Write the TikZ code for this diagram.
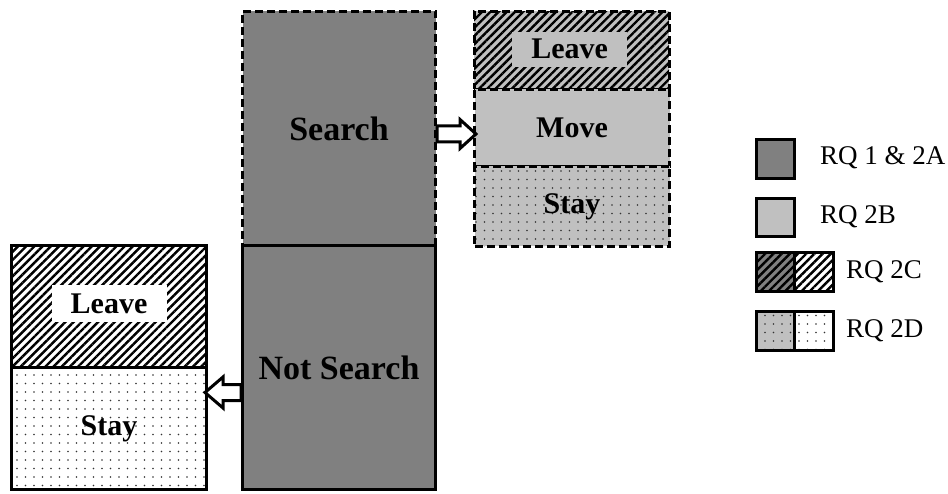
\documentclass[tikz,border=0pt]{standalone}
\usepackage{fontspec}
\setmainfont{Liberation Serif}
\usetikzlibrary{patterns.meta,calc}
\definecolor{dgray}{RGB}{128,128,128}
\definecolor{lgray}{RGB}{192,192,192}
\tikzset{
  box/.style={draw=black, line width=3pt, rectangle, inner sep=0pt, anchor=north west},
  dbox/.style={box, dash pattern=on 8pt off 4pt},
  hatch/.style={pattern={Lines[angle=45,distance=5.8pt,line width=2.4pt]}, pattern color=black},
  dotted pat/.style={pattern={Dots[radius=0.9pt,distance=8.5pt]}, pattern color=black!80},
  lbl/.style={font=\bfseries\fontsize{30}{30}\selectfont, text=black},
  biglbl/.style={font=\bfseries\fontsize{34}{34}\selectfont, text=black},
  leg/.style={font=\fontsize{27}{27}\selectfont, anchor=west, inner sep=0pt},
  lbg/.style={lbl, minimum width=115pt, minimum height=35pt, inner sep=0pt},
  blockarrow/.style={draw=black, fill=white, line width=3pt, line join=miter},
}
\begin{document}
\begin{tikzpicture}[x=1pt,y=-1pt]
\useasboundingbox (0,0) rectangle (948,494);
% central column
\node[dbox, fill=dgray, minimum width=193pt, minimum height=234pt, biglbl] (search) at (241,10) {Search};
\node[box, fill=dgray, minimum width=193pt, minimum height=244pt, biglbl] (notsearch) at (241,244) {Not Search};
% right column
\node[dbox, preaction={fill=lgray}, hatch, minimum width=195pt, minimum height=78pt] (rleave) at (473,10) {};
\node[lbg, fill=lgray] (rleavelbl) at ($(rleave.center)+(-2,-1)$) {Leave};
\node[dbox, fill=lgray, minimum width=195pt, minimum height=77pt, lbl] (rmove) at (473,88) {Move};
\node[dbox, preaction={fill=lgray}, dotted pat, minimum width=195pt, minimum height=80pt, lbl] (rstay) at (473,165) {Stay};
% left column
\node[box, preaction={fill=white}, hatch, minimum width=195pt, minimum height=122pt] (lleave) at (10,244) {};
\node[lbg, fill=white, minimum height=37pt] (lleavelbl) at ($(lleave.center)+(0,-3)$) {Leave};
\node[box, preaction={fill=white}, dotted pat, minimum width=195pt, minimum height=122pt, lbl] (lstay) at (10,366) {Stay};
% block arrows
\begin{scope}[shift={($(search.east)+(0,5.5)$)}]
  \draw[blockarrow] (0,-8) -- (23,-8) -- (23,-14.5) -- (39,0) -- (23,14.5) -- (23,8) -- (0,8) -- cycle;
\end{scope}
\begin{scope}[shift={($(notsearch.west)+(0,25)$)}]
  \draw[blockarrow] (0,-8) -- (-18,-8) -- (-18,-15.5) -- (-36,0) -- (-18,15.5) -- (-18,8) -- (0,8) -- cycle;
\end{scope}
% legend
\node[box, fill=dgray, minimum width=38pt, minimum height=39pt] (k1) at (755,138) {};
\node[leg] (t1) at (820,158) {RQ 1 \& 2A};
\node[box, fill=lgray, minimum width=38pt, minimum height=38pt] (k2) at (755,197) {};
\node[leg] (t2) at (820,217) {RQ 2B};
\node[box, preaction={fill=dgray}, hatch, minimum width=38pt, minimum height=39pt] (k3a) at (755,251) {};
\node[box, preaction={fill=white}, hatch, minimum width=39pt, minimum height=39pt] (k3b) at (793,251) {};
\node[leg] (t3) at (846,272) {RQ 2C};
\node[box, preaction={fill=lgray}, dotted pat, minimum width=38pt, minimum height=39pt] (k4a) at (755,310) {};
\node[box, preaction={fill=white}, dotted pat, minimum width=39pt, minimum height=39pt] (k4b) at (793,310) {};
\node[leg] (t4) at (846,331) {RQ 2D};
\end{tikzpicture}
\end{document}
